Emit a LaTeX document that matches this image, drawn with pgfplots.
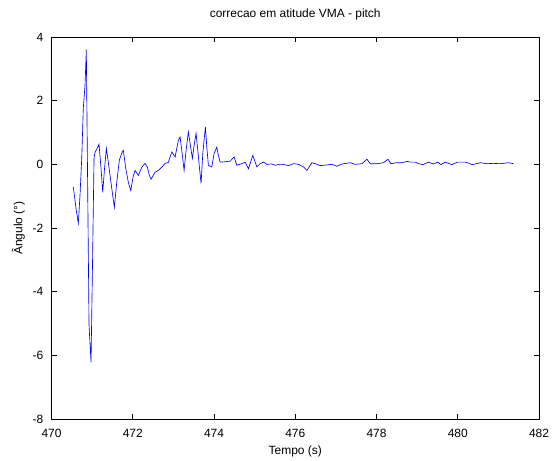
\documentclass[border=0pt]{standalone}
\usepackage{fontspec}
\setmainfont{Liberation Sans}
\usepackage{pgfplots}
\pgfplotsset{compat=1.18}
\begin{document}
\fontsize{12}{14}\selectfont
\begin{tikzpicture}
\path[use as bounding box] (-51.5bp,-42bp) rectangle (500.5bp,419bp);
\begin{axis}[
    at={(0,0)}, anchor=south west,
    scale only axis,
    width=487.5bp, height=382bp,
    xmin=470, xmax=482, ymin=-8, ymax=4,
    xtick={470,472,...,482},
    ytick={-8,-6,...,4},
    tick align=inside,
    major tick length=5bp,
    axis line style={line width=0.6pt},
    every tick/.style={black, line width=0.6pt},
    /pgf/number format/assume math mode=true,
    /pgf/number format/1000 sep={},
    xticklabel style={anchor=base, yshift=-18bp},
    yticklabel style={anchor=east, xshift=-4bp},
    title={correcao em atitude VMA - pitch},
    title style={at={(axis description cs:0.5,1)}, anchor=base, yshift=14bp},
    xlabel={Tempo (s)},
    xlabel style={at={(axis description cs:0.5,0)}, anchor=center, yshift=-32bp},
    ylabel={Ângulo (°)},
    ylabel style={at={([xshift=-33bp]axis description cs:0,0.5)}, anchor=center},
]
\addplot[color=blue, line width=0.65pt] coordinates {
(470.537,-0.71) (470.603,-1.38) (470.660,-1.85) (470.702,-0.97) (470.744,0.19)
(470.783,1.76) (470.825,2.48) (470.857,3.60) (470.924,-5.06) (470.973,-6.22)
(471.010,-3.08) (471.047,0.19) (471.071,0.38) (471.121,0.49) (471.170,0.63)
(471.219,-0.13) (471.261,-0.88) (471.305,-0.14) (471.350,0.50) (471.399,0.06)
(471.441,-0.35) (471.507,-0.98) (471.547,-1.35) (471.606,-0.57) (471.670,0.13)
(471.729,0.35) (471.768,0.44) (471.828,-0.13) (471.892,-0.57) (471.951,-0.82)
(472.015,-0.35) (472.057,-0.19) (472.138,-0.35) (472.222,-0.09) (472.303,0.03)
(472.360,-0.09) (472.409,-0.35) (472.451,-0.47) (472.549,-0.25) (472.631,-0.19)
(472.714,-0.09) (472.796,0.03) (472.877,0.06) (472.961,0.39) (473.042,0.23)
(473.123,0.75) (473.165,0.86) (473.207,0.44) (473.264,-0.19) (473.313,0.44)
(473.369,1.02) (473.411,0.66) (473.468,0.19) (473.517,0.65) (473.559,0.97)
(473.601,0.44) (473.640,-0.08) (473.682,-0.60) (473.724,0.34) (473.764,0.86)
(473.788,1.17) (473.823,0.54) (473.862,-0.03) (473.946,-0.08) (474.002,0.34)
(474.069,0.54) (474.108,0.28) (474.150,0.07) (474.273,0.08) (474.397,0.10)
(474.495,0.23) (474.562,-0.03) (474.685,0.02) (474.766,0.07) (474.847,-0.14)
(474.956,0.28) (475.054,-0.08) (475.135,0.02) (475.217,0.07) (475.300,0.00)
(475.424,0.01) (475.505,-0.03) (475.611,0.00) (475.700,0.00) (475.833,-0.04)
(475.956,0.02) (476.079,0.00) (476.202,-0.08) (476.286,-0.19) (476.409,0.05)
(476.490,0.02) (476.613,-0.04) (476.778,-0.02) (476.901,0.00) (477.025,-0.06)
(477.148,0.01) (477.352,0.05) (477.475,0.00) (477.640,0.02) (477.764,0.16)
(477.845,0.02) (478.010,0.02) (478.172,0.05) (478.281,0.16) (478.355,0.02)
(478.485,0.05) (478.626,0.05) (478.749,0.09) (478.830,0.07) (478.953,0.07)
(479.040,0.02) (479.143,-0.01) (479.281,0.07) (479.400,0.01) (479.512,0.07)
(479.586,-0.01) (479.692,0.07) (479.857,-0.01) (479.995,0.07) (480.185,0.07)
(480.260,0.04) (480.350,-0.01) (480.460,0.02) (480.554,0.05) (480.719,0.02)
(480.870,0.03) (481.047,0.02) (481.251,0.05) (481.374,0.02)
};
\end{axis}
\end{tikzpicture}
\end{document}
